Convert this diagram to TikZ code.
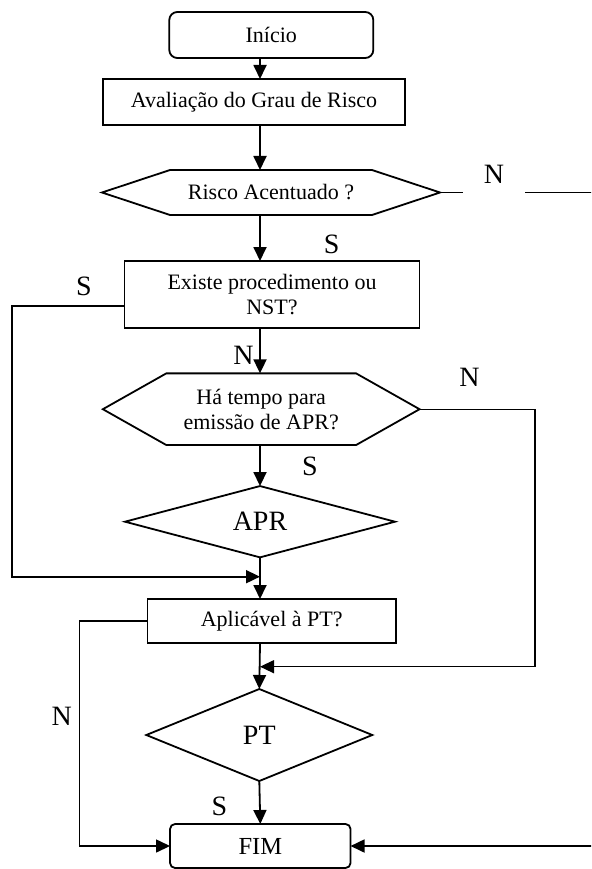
\documentclass[tikz,border=0pt]{standalone}
\usepackage{fontspec}
\setmainfont{Liberation Serif}
\usetikzlibrary{arrows.meta}
\newcommand\drawhex[2]{\draw[shape line] (#1.west) -- ([xshift=#2pt]#1.north west) -- ([xshift=-#2pt]#1.north east) -- (#1.east) -- ([xshift=-#2pt]#1.south east) -- ([xshift=#2pt]#1.south west) -- cycle;}
\newcommand\drawdiam[1]{\draw[shape line] (#1.west) -- (#1.north) -- (#1.east) -- (#1.south) -- cycle;}
\begin{document}
\begin{tikzpicture}[x=1pt,y=-1pt,
  every node/.style={inner sep=0pt, outer sep=0pt},
  shape line/.style={line width=1.8pt, line join=miter},
  boxnode/.style={draw, line width=1.8pt, rectangle, align=center, font=\fontsize{22}{25}\selectfont},
  termnode/.style={boxnode, rounded corners=8pt},
  shapenode/.style={rectangle, align=center, font=\fontsize{22}{25}\selectfont},
  bignode/.style={rectangle, font=\fontsize{28}{30}\selectfont},
  lbl/.style={font=\fontsize{28}{30}\selectfont},
  conn/.style={line width=1.8pt},
  thin conn/.style={line width=1.4pt},
  arr/.style={-{Triangle[length=14pt,width=13pt]}},
]
\useasboundingbox (0,0) rectangle (591,869);
\clip (0,0) rectangle (591,869);
\fill[white] (0,0) rectangle (591,869);

\coordinate (ax) at (260,0);
\node[termnode, minimum width=204, minimum height=46] (inicio) at (271.3,35) {Início};
\node[boxnode, minimum width=302, minimum height=46] (aval) at (254,102) {Avaliação do Grau de Risco};
\node[shapenode, minimum width=338, minimum height=45] (risco) at (271,192.5) {Risco Acentuado ?};
\drawhex{risco}{68}
\node[boxnode, minimum width=295, minimum height=67] (existe) at (272,294.5) {Existe procedimento ou\\NST?};
\node[shapenode, minimum width=316.7, minimum height=71.7] (tempo) at (261.2,409.2) {Há tempo para\\emissão de APR?};
\drawhex{tempo}{63.5}
\node[bignode, minimum width=270, minimum height=71.3] (apr) at (260,521.7) {APR};
\drawdiam{apr}
\node[boxnode, minimum width=248.6, minimum height=44] (aplic) at (271.7,621) {Aplicável à PT?};
\node[bignode, minimum width=226, minimum height=92] (pt) at (259.3,735) {PT};
\drawdiam{pt}
\node[boxnode, rounded corners=5pt, minimum width=180.5, minimum height=44, font=\fontsize{24.5}{26}\selectfont] (fim) at (260.3,846) {FIM};

\coordinate (j1) at (260,576.7);
\coordinate (j2) at (260,666.7);

% main axis
\draw[conn,arr] (inicio.south -| ax) -- (aval.north -| ax);
\draw[conn,arr] (aval.south -| ax) -- (risco.north -| ax);
\draw[conn,arr] (risco.south -| ax) -- (existe.north -| ax);
\draw[conn,arr] (existe.south -| ax) -- (tempo.north -| ax);
\draw[conn,arr] (tempo.south -| ax) -- (apr.north);
\draw[conn,arr] (apr.south) -- (aplic.north -| ax);
\draw[conn,arr] (aplic.south -| ax) -- (pt.north);
\draw[conn,arr] (pt.south) -- (fim.north);

% side paths
\draw[conn,arr] (risco.east) -- (600,192.5) |- (fim.east);
\node[lbl, fill=white, minimum width=62, anchor=base, text height=22pt, text depth=14pt] (nr) at (494,183.3) {N};
\draw[conn,arr] ([yshift=-11.5pt]existe.west) -- ++(-112.7,0) |- (j1);
\draw[thin conn,arr] (tempo.east) -- (535,409.2) |- (j2);
\draw[thin conn,arr] (aplic.west) -- (79.3,621) |- (fim.west);

% labels
\node[lbl] (s1) at (331.7,244) {S};
\node[lbl] (s2) at (84,286.7) {S};
\node[lbl] (n2) at (243.4,355.8) {N};
\node[lbl] (n3) at (469.5,377.3) {N};
\node[lbl] (s3) at (310,466.7) {S};
\node[lbl] (n4) at (61.7,716.3) {N};
\node[lbl] (s4) at (219.3,806.5) {S};
\end{tikzpicture}
\end{document}
